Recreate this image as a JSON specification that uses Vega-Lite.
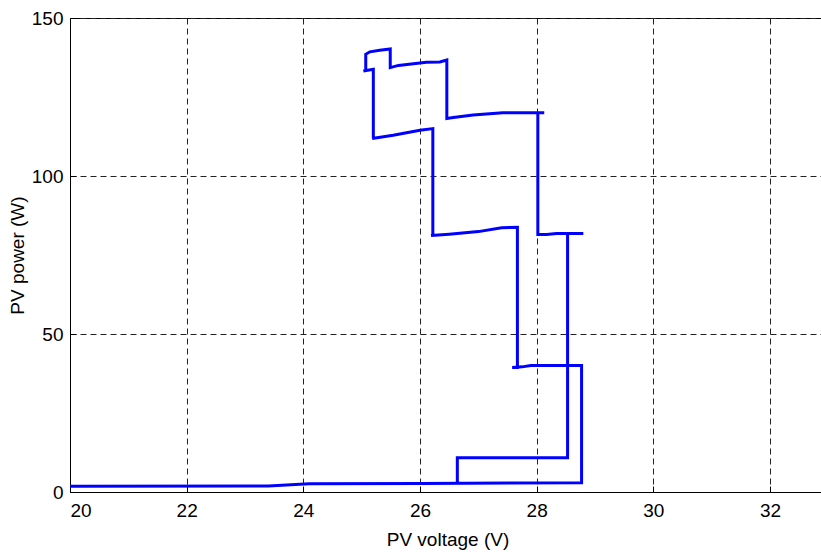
{
  "$schema": "https://vega.github.io/schema/vega-lite/v6.json",
  "autosize": "none",
  "padding": {"left": 70, "top": 18, "right": 0, "bottom": 64},
  "width": 755,
  "height": 474,
  "background": "white",
  "config": {
    "view": {"stroke": "black", "strokeWidth": 1},
    "axis": {
      "labelFont": "Liberation Sans",
      "titleFont": "Liberation Sans",
      "labelFontSize": 19,
      "titleFontSize": 19,
      "titleFontWeight": "normal",
      "labelColor": "black",
      "titleColor": "black",
      "domainColor": "black",
      "tickColor": "black",
      "tickSize": -6,
      "gridColor": "#222222",
      "gridDash": [6, 4],
      "gridOpacity": 1,
      "gridWidth": 1
    }
  },
  "data": {
    "values": [
      {"i": 1, "v": 20.0, "p": 1.8},
      {"i": 2, "v": 23.4, "p": 1.9},
      {"i": 3, "v": 24.1, "p": 2.6},
      {"i": 4, "v": 26.0, "p": 2.7},
      {"i": 5, "v": 28.77, "p": 2.9},
      {"i": 6, "v": 28.77, "p": 40.0},
      {"i": 7, "v": 27.9, "p": 40.0},
      {"i": 8, "v": 27.75, "p": 39.6},
      {"i": 9, "v": 27.58, "p": 39.4},
      {"i": 10, "v": 27.67, "p": 39.4},
      {"i": 11, "v": 27.67, "p": 83.8},
      {"i": 12, "v": 27.4, "p": 83.6},
      {"i": 13, "v": 27.0, "p": 82.4},
      {"i": 14, "v": 26.5, "p": 81.6},
      {"i": 15, "v": 26.19, "p": 81.2},
      {"i": 16, "v": 26.22, "p": 81.3},
      {"i": 17, "v": 26.22, "p": 115.0},
      {"i": 18, "v": 26.0, "p": 114.5},
      {"i": 19, "v": 25.54, "p": 112.9},
      {"i": 20, "v": 25.18, "p": 111.9},
      {"i": 21, "v": 25.2, "p": 112.0},
      {"i": 22, "v": 25.2, "p": 133.8},
      {"i": 23, "v": 25.03, "p": 133.2},
      {"i": 24, "v": 25.07, "p": 133.4},
      {"i": 25, "v": 25.07, "p": 138.5},
      {"i": 26, "v": 25.14, "p": 139.3},
      {"i": 27, "v": 25.31, "p": 139.8},
      {"i": 28, "v": 25.49, "p": 140.2},
      {"i": 29, "v": 25.49, "p": 134.3},
      {"i": 30, "v": 25.63, "p": 135.0},
      {"i": 31, "v": 26.11, "p": 136.0},
      {"i": 32, "v": 26.34, "p": 136.1},
      {"i": 33, "v": 26.46, "p": 136.7},
      {"i": 34, "v": 26.46, "p": 118.2},
      {"i": 35, "v": 26.57, "p": 118.5},
      {"i": 36, "v": 26.91, "p": 119.3},
      {"i": 37, "v": 27.42, "p": 120.0},
      {"i": 38, "v": 28.13, "p": 120.0},
      {"i": 39, "v": 28.02, "p": 120.0},
      {"i": 40, "v": 28.02, "p": 81.5},
      {"i": 41, "v": 28.17, "p": 81.5},
      {"i": 42, "v": 28.34, "p": 81.8},
      {"i": 43, "v": 28.8, "p": 81.8},
      {"i": 44, "v": 28.53, "p": 81.8},
      {"i": 45, "v": 28.53, "p": 10.8},
      {"i": 46, "v": 26.64, "p": 10.8},
      {"i": 47, "v": 26.64, "p": 2.9}
    ]
  },
  "mark": {"type": "line", "color": "#0000ff", "strokeWidth": 3, "strokeJoin": "miter", "clip": true},
  "encoding": {
    "order": {"field": "i", "type": "quantitative"},
    "x": {
      "field": "v",
      "type": "quantitative",
      "scale": {"domain": [20, 32.943], "nice": false, "zero": false},
      "axis": {
        "values": [20, 22, 24, 26, 28, 30, 32],
        "title": "PV voltage (V)",
        "titlePadding": 10,
        "labelPadding": 15,
        "grid": true
      }
    },
    "y": {
      "field": "p",
      "type": "quantitative",
      "scale": {"domain": [0, 150], "nice": false},
      "axis": {
        "values": [0, 50, 100, 150],
        "title": "PV power (W)",
        "titlePadding": 4,
        "labelPadding": 13,
        "grid": true
      }
    }
  }
}
